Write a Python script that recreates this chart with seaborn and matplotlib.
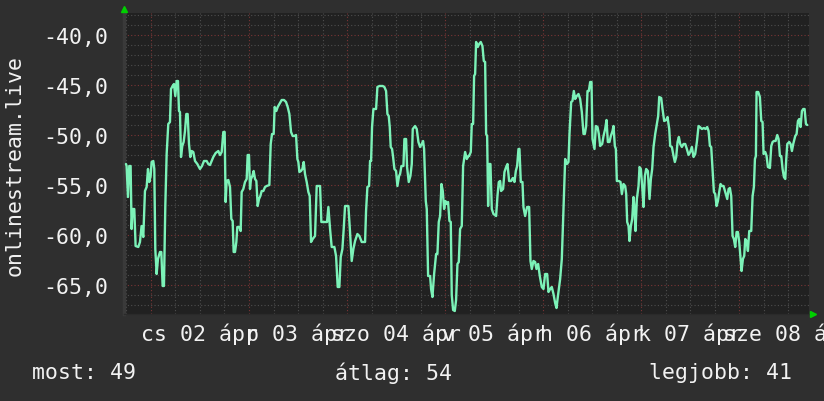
import numpy as np
import pandas as pd
import seaborn as sns
import matplotlib.pyplot as plt
from matplotlib.ticker import MultipleLocator, FuncFormatter

# hours since 02 Apr 00:00 and the (negative) rank
hours = [
    -6.12, -5.96, -5.63, -5.31, -4.98, -4.74, -4.49, -4.08, -3.76, -3.10, -2.69, -2.30, -1.88, -1.47,
    -1.06, -0.73, -0.41, -0.08, 0.16, 0.57, 0.82, 1.06, 1.39, 1.71, 2.20, 2.53, 2.86, 3.18, 3.51, 3.84,
    4.24, 4.65, 4.90, 5.31, 5.63, 5.96, 6.28, 6.61, 6.86, 7.10, 7.35, 7.67, 8.00, 8.33, 8.65, 8.98,
    9.31, 9.63, 9.96, 10.37, 10.78, 11.35, 12.00, 12.49, 12.98, 13.63, 14.04, 14.45, 14.86, 15.26,
    15.84, 16.49, 16.90, 17.31, 17.71, 18.04, 18.28, 18.53, 18.94, 19.35, 19.67, 20.00, 20.24, 20.57,
    20.90, 21.14, 21.63,
    21.96, 22.20, 22.61, 23.02, 23.43, 23.67, 24.00, 24.24, 24.49, 24.82, 25.14, 25.47, 25.80, 26.12,
    26.45, 26.78, 27.10, 27.51, 27.92, 28.33, 28.98, 29.31, 29.63, 30.04, 30.28, 30.69, 31.02, 31.43,
    32.00, 32.57, 33.06, 33.47, 33.88, 34.29, 34.69, 35.10, 35.51, 35.84, 36.08, 36.33, 36.73, 37.06,
    37.39, 37.71, 38.12, 38.53, 38.86, 39.18, 39.59, 40.16, 40.57, 41.39, 41.71, 42.61, 43.10, 43.43,
    43.84, 44.24, 44.90, 45.31, 45.71, 46.12, 46.45, 46.86, 47.18, 47.51, 48.33, 48.73, 49.14,
    49.55, 49.96, 50.53, 51.02, 51.59, 52.41, 52.65, 52.98, 53.39, 53.63, 53.88, 54.12, 54.45, 55.10,
    55.43, 55.92, 56.73, 57.14, 57.55, 57.88, 58.20, 58.45, 58.69, 59.02, 59.27, 59.59, 60.00, 60.33,
    60.73, 60.98, 61.31, 61.80, 62.04, 62.45, 62.69, 63.10, 63.51, 63.84, 64.08, 64.65, 65.06, 65.47,
    65.88, 66.29, 66.61, 66.86, 67.27, 67.51, 67.84, 68.33, 68.57, 68.90, 69.31, 69.80, 70.12, 70.45,
    70.78, 71.10, 71.43, 71.76, 72.08, 72.41, 72.73, 73.06, 73.39, 73.63, 73.96, 74.37, 74.69, 75.02,
    75.35, 75.67, 76.08, 76.41, 76.90, 77.31, 77.71,
    77.88, 78.29, 78.53, 78.86, 79.10, 79.35, 79.59, 80.00, 80.33, 80.73, 81.14, 81.47, 81.80, 82.04,
    82.29, 82.53, 82.78, 83.10, 83.43, 83.84, 84.49, 84.82, 85.14, 85.47, 85.71, 86.20, 86.53, 86.94,
    87.27, 87.67, 88.16, 88.57, 88.98, 89.31, 89.63, 89.96, 90.20, 90.53, 90.94, 91.18, 91.59, 92.08,
    92.57, 92.90, 93.22, 93.63, 94.04, 94.37, 94.78, 95.18, 95.67, 96.08, 96.49, 96.98, 97.31, 97.71,
    98.12, 98.53, 98.94, 99.27, 99.59, 100.16, 100.57, 100.98, 101.39, 101.80, 102.20, 102.45, 102.86,
    103.18, 103.51, 103.84, 104.24, 104.65, 105.06, 105.47, 105.88,
    106.20, 106.53, 106.86, 107.18, 107.51, 107.84, 108.08, 108.33, 108.57, 108.90, 109.31, 109.63,
    109.96, 110.45, 110.78, 111.18, 111.51, 111.84, 112.24, 112.57, 112.98, 113.22, 113.55, 113.80,
    114.04, 114.53, 114.94, 115.27, 115.67, 116.08, 116.33, 116.57, 116.90, 117.14, 117.47, 117.80,
    118.12, 118.37, 118.61, 118.94, 119.35, 119.59, 119.92, 120.24, 120.57, 120.90, 121.22, 121.63,
    122.04, 122.37, 122.69, 123.02, 123.43, 123.84, 124.16, 124.41, 124.90, 125.22, 125.63, 126.12,
    126.45, 126.86, 127.10, 127.51, 127.92, 128.24, 128.57, 128.90, 129.22, 129.55, 129.96, 130.37,
    130.78, 131.18, 131.59, 132.00, 132.41, 132.82, 133.22, 133.63, 134.04,
    134.37, 134.86, 135.35, 135.76, 136.16, 136.49, 136.82, 137.14, 137.47, 137.80, 138.12, 138.45,
    138.78, 139.10, 139.43, 139.76, 140.16, 140.57, 141.06, 141.39, 141.71, 142.04, 142.37, 142.69,
    143.02, 143.35, 143.67, 144.00, 144.33, 144.57, 144.90, 145.22, 145.47, 145.80, 146.12, 146.45,
    146.94, 147.27, 147.59, 147.84, 148.08, 148.24, 148.65, 149.06, 149.39, 149.71, 149.96, 150.37,
    150.69, 151.02, 151.51, 151.84, 152.16, 152.49, 152.90, 153.31, 153.63, 153.96, 154.29, 154.61,
    154.94, 155.27, 155.51, 155.76, 156.24, 156.57, 156.90, 157.22, 157.71, 158.04, 158.37, 158.69,
    159.02, 159.35, 159.67, 160.00, 160.33, 160.65,
]
rank = [
    -52.9, -53.1, -56.2, -53.1, -53.1, -59.4, -57.4, -57.4, -61.1, -61.2, -60.7, -59.1, -60.2, -55.6,
    -55.2, -53.4, -54.7, -54.1, -52.7, -52.6, -53.4, -61.4, -63.9, -62.4, -61.7, -61.7, -65.1, -65.1,
    -57.1, -51.9, -48.9, -48.7, -45.4, -45.1, -44.9, -46.1, -44.6, -44.6, -47.6, -47.7, -52.2, -51.1,
    -50.7, -49.6, -47.9, -47.9, -50.9, -52.2, -51.6, -51.7, -52.6, -52.9, -53.4, -53.1, -52.6, -52.6,
    -52.9, -53.0, -52.6, -52.2, -51.8, -51.6, -52.0, -51.7, -49.7, -49.7, -56.7, -54.6, -54.5, -55.2,
    -58.4, -58.6, -61.7, -61.7, -60.7, -59.2, -59.2,
    -59.6, -55.7, -55.4, -54.7, -54.4, -52.0, -52.0, -55.4, -54.4, -54.1, -53.6, -54.4, -54.6, -57.1,
    -56.4, -56.1, -55.6, -55.6, -55.2, -55.1, -55.0, -50.9, -49.9, -49.9, -47.2, -47.6, -47.2, -46.9,
    -46.5, -46.5, -46.7, -47.2, -47.9, -49.7, -50.1, -50.1, -50.0, -52.4, -52.7, -53.7, -53.6, -53.4,
    -52.7, -53.9, -54.7, -55.7, -56.1, -60.7, -60.4, -60.1, -55.1, -55.1, -58.7, -58.7, -58.7, -57.2,
    -59.4, -61.2, -61.2, -62.1, -65.2, -65.2, -62.2, -61.4, -59.4, -57.1, -57.1, -59.7, -62.6,
    -61.4, -60.6, -59.9, -60.1, -60.7, -60.7, -57.6, -55.2, -55.1, -52.6, -52.6, -49.2, -47.4, -47.4,
    -45.2, -45.1, -45.1, -45.2, -45.6, -47.9, -48.1, -49.2, -51.2, -51.4, -52.2, -53.4, -53.6, -55.1,
    -54.1, -53.9, -53.1, -53.1, -50.4, -50.4, -53.2, -54.7, -54.1, -52.9, -49.4, -49.1, -49.4, -50.7,
    -51.2, -50.9, -50.6, -51.4, -56.6, -57.4, -64.1, -64.1, -65.4, -66.2, -63.9, -61.9, -61.9, -58.7,
    -58.1, -54.9, -55.6, -57.4, -56.6, -56.9, -56.7, -58.6, -58.7, -66.0, -67.5, -67.6, -66.5, -62.9,
    -62.7, -59.4, -59.1, -53.1, -51.7, -52.4, -52.1,
    -52.1, -51.7, -48.9, -48.9, -44.1, -43.9, -40.7, -41.2, -40.9, -40.7, -41.1, -42.6, -42.7, -49.9,
    -50.1, -57.1, -52.9, -52.9, -57.4, -57.9, -58.1, -56.1, -54.7, -54.6, -55.6, -55.4, -53.7, -53.2,
    -52.9, -54.6, -54.6, -54.3, -54.7, -53.6, -53.1, -51.4, -51.4, -54.7, -54.7, -57.2, -58.1, -57.2,
    -57.2, -62.6, -63.4, -62.6, -62.7, -63.4, -62.9, -64.1, -65.2, -65.4, -63.9, -63.9, -65.7, -65.4,
    -65.2, -65.9, -66.8, -67.3, -66.2, -64.4, -62.4, -57.4, -52.4, -52.9, -52.7, -49.9, -46.7,
    -46.6, -45.6, -46.4, -46.1, -45.9, -46.4, -47.7, -49.9,
    -49.9, -49.1, -45.6, -45.6, -44.7, -44.7, -50.4, -50.9, -51.4, -49.1, -49.2, -49.9,
    -51.1, -50.9, -50.1, -49.4, -48.5, -50.7, -50.7, -50.1, -49.6, -49.1, -51.1, -51.4,
    -54.6, -54.6, -54.7, -55.9, -54.9, -55.1, -55.9, -58.7, -59.1, -60.6, -59.1, -58.4,
    -56.2, -57.4, -59.6, -56.4, -55.1, -53.2, -53.4, -55.1, -57.2, -54.1, -53.4, -53.6,
    -56.4, -54.4, -53.4, -51.2, -49.9, -48.9, -48.1, -46.2, -46.3, -47.4, -48.6, -48.5,
    -48.2, -49.4, -51.1, -51.2, -52.1, -52.7, -52.2, -50.7, -50.2, -50.9, -51.2, -50.9,
    -50.9, -51.4, -52.0, -51.7, -51.2, -52.2, -51.9, -50.7, -49.1,
    -49.2, -49.4, -49.3, -49.4, -49.2, -49.6, -51.1, -51.2, -53.4, -55.7, -55.9, -57.1,
    -56.6, -55.7, -54.9, -55.1, -55.1, -55.7, -56.4, -55.4, -55.3, -56.1, -60.1, -60.4,
    -61.2, -59.7, -59.7, -60.7, -62.4, -63.6, -62.4, -62.1, -60.4, -60.6, -61.6, -59.6,
    -59.6, -56.1, -55.2, -52.4, -52.1, -45.7, -45.7, -46.2, -48.6, -48.7, -51.9, -51.7,
    -52.1, -53.2, -53.3, -51.1, -50.7, -50.6, -50.6, -50.0, -50.4, -52.1, -52.1, -53.4,
    -54.2, -54.4, -52.4, -50.9, -50.7, -50.9, -51.6, -50.9, -50.1, -49.9, -48.6, -48.4,
    -49.2, -47.6, -47.4, -47.4, -48.9, -49.0,
]

day_labels = ["cs 02 ápr", "p 03 ápr", "szo 04 ápr", "v 05 ápr", "h 06 ápr", "k 07 ápr", "sze 08 ápr"]
label_hours = [12, 36, 60, 84, 108, 132, 156]
y_title = "onlinestream.live"
summary = [("most: 49", 32), ("átlag: 54", 335), ("legjobb: 41", 649)]

df = pd.DataFrame({"hours": hours, "rank": rank})

sns.set_theme(style="dark")
plt.rcParams['font.family'] = ['DejaVu Sans Mono']
fs = 15.5
fg = '#f2f2f2'

fig = plt.figure(figsize=(8.24, 4.02), dpi=100, facecolor='#2f2f2f')
W, H = 824, 402
ax = fig.add_axes([124 / W, (H - 315) / H, (809.5 - 124) / W, (315 - 14) / H])
ax.set_facecolor('#212121')

sns.lineplot(data=df, x="hours", y="rank", ax=ax, color='#7cf2b8', linewidth=1.7,
             estimator=None, sort=False, zorder=3)

ax.set_xlim(-6.6, 161.2)
ax.set_ylim(-67.9, -37.8)

ax.xaxis.set_major_locator(MultipleLocator(24))
ax.xaxis.set_minor_locator(MultipleLocator(6))
ax.yaxis.set_major_locator(MultipleLocator(5))
ax.yaxis.set_minor_locator(MultipleLocator(1))
ax.set_axisbelow(True)
ax.grid(which='minor', color='#4e4e4e', linestyle=(0, (1, 2)), linewidth=0.8)
ax.grid(which='major', color='#7a3636', linestyle=(0, (1, 2)), linewidth=0.8)
ax.tick_params(which='both', length=0)
ax.set_xticklabels([])
ax.yaxis.set_major_formatter(FuncFormatter(lambda v, p: f"{v:.1f}".replace('.', ',')))
ax.tick_params(axis='y', labelsize=fs, labelcolor=fg, pad=11)
ax.set_xlabel("")
ax.set_ylabel("")

for side in ['top', 'right']:
    ax.spines[side].set_visible(False)
ax.spines['left'].set_color('#3a3a3a')
ax.spines['left'].set_linewidth(2.5)
ax.spines['bottom'].set_color('#2a2a2a')
ax.spines['bottom'].set_linewidth(1)

# day labels sit at noon, between the red day lines
ax2 = ax.twiny()
ax2.set_xlim(ax.get_xlim())
ax2.xaxis.set_ticks_position('bottom')
ax2.set_xticks(label_hours)
ax2.set_xticklabels(day_labels)
ax2.tick_params(length=0, labelsize=fs, labelcolor=fg, pad=6)
ax2.patch.set_visible(False)
for s in ax2.spines.values():
    s.set_visible(False)
ax2.grid(False)

# rrdtool style axis arrows
ax.plot([0], [1.0 + 4 / 301], marker='^', color='#00d000', markersize=5,
        transform=ax.transAxes, clip_on=False, zorder=5)
ax.plot([1.0 + 3 / 685], [0], marker='>', color='#00d000', markersize=5,
        transform=ax.transAxes, clip_on=False, zorder=5)

fig.text(15 / W, 1 - 165 / H, y_title, rotation=90, ha='center', va='center',
         fontsize=fs, color=fg)
for txt, xpos in summary:
    fig.text(xpos / W, 1 - 373 / H, txt, ha='left', va='center', fontsize=fs, color=fg)

fig.savefig("out.png", dpi=100, facecolor=fig.get_facecolor())
